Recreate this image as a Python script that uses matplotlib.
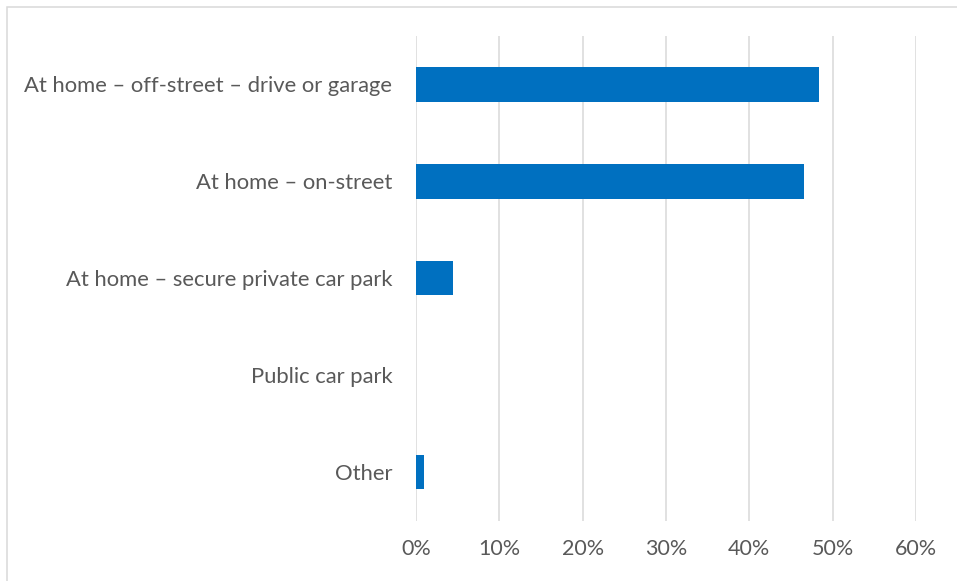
import matplotlib.pyplot as plt
from matplotlib.patches import Rectangle
from matplotlib.ticker import PercentFormatter

# where the vehicle is charged / parked
categories = [
    "At home \u2013 off-street \u2013 drive or garage",
    "At home \u2013 on-street",
    "At home \u2013 secure private car park",
    "Public car park",
    "Other",
]
shares = [0.484, 0.466, 0.044, 0.0, 0.009]
x_ticks = [0.0, 0.1, 0.2, 0.3, 0.4, 0.5, 0.6]

plt.rcParams['font.family'] = ['Lato', 'DejaVu Sans']

fig = plt.figure(figsize=(9.57, 5.81), dpi=100)
ax = fig.add_axes([0.4347, 0.1041, 0.5225, 0.8339])

pos = list(range(len(categories)))
ax.barh(pos, shares, height=0.355, color='#0070C0', zorder=3)

ax.set_xlim(0, 0.6)
ax.set_ylim(len(categories) - 0.5, -0.5)
ax.set_xticks(x_ticks)
ax.xaxis.set_major_formatter(PercentFormatter(1.0, decimals=0))
ax.set_yticks(pos)
ax.set_yticklabels(categories)

ax.grid(axis='x', color='#d9d9d9', linewidth=1.1, zorder=0)
for s in ax.spines.values():
    s.set_visible(False)
ax.tick_params(axis='both', length=0, colors='#595959')
ax.tick_params(axis='y', pad=17, labelsize=15.8)
ax.tick_params(axis='x', pad=13, labelsize=15.5)

# outer chart frame
fig.patches.append(Rectangle((7 / 957, -0.1), 1.2, (581 - 7) / 581 + 0.1,
                             transform=fig.transFigure, fill=False,
                             edgecolor='#d9d9d9', linewidth=1.1))

fig.savefig('out.png', dpi=100)
